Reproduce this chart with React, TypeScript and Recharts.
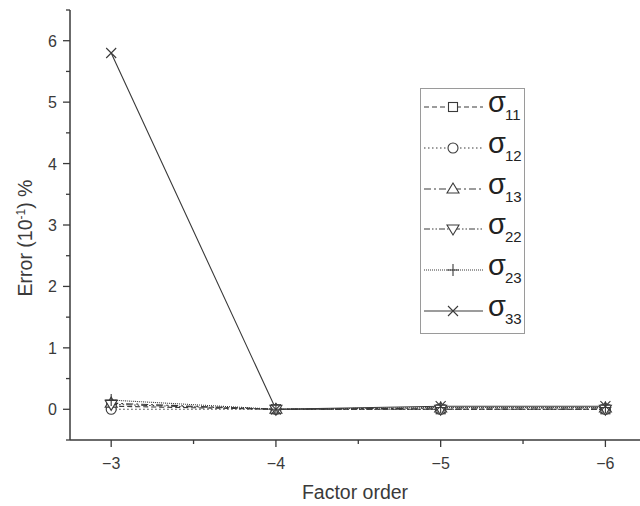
import { LineChart, Line, XAxis, YAxis } from "recharts";

const factorOrders = [-3, -4, -5, -6];
const sigma11 = [0.05, 0, 0, 0];
const sigma12 = [0.0, 0, 0, 0];
const sigma13 = [0.1, 0, 0.02, 0.02];
const sigma22 = [0.08, 0, 0, 0];
const sigma23 = [0.15, 0, 0.03, 0.03];
const sigma33 = [5.8, 0, 0.05, 0.05];

const xTicks = [-3, -3.5, -4, -4.5, -5, -5.5, -6];
const yTicks = [-0.5, 0, 0.5, 1, 1.5, 2, 2.5, 3, 3.5, 4, 4.5, 5, 5.5, 6, 6.5];

const data = factorOrders.map((x, i) => ({
    x,
    s11: sigma11[i],
    s12: sigma12[i],
    s13: sigma13[i],
    s22: sigma22[i],
    s23: sigma23[i],
    s33: sigma33[i],
}));

const INK = "#3a3a3a";
const FONT = "'Liberation Sans', Arial, sans-serif";

type Shape = "square" | "circle" | "up" | "down" | "plus" | "cross";

const series: { key: string; sub: string; dash: string; shape: Shape }[] = [
    { key: "s11", sub: "11", dash: "5 3", shape: "square" },
    { key: "s12", sub: "12", dash: "1.5 2.5", shape: "circle" },
    { key: "s13", sub: "13", dash: "7 3 2 3", shape: "up" },
    { key: "s22", sub: "22", dash: "6 2 1.5 2 1.5 2", shape: "down" },
    { key: "s23", sub: "23", dash: "1 1", shape: "plus" },
    { key: "s33", sub: "33", dash: "", shape: "cross" },
];

function Marker({ cx, cy, shape }: { cx: number; cy: number; shape: Shape }) {
    const r = 5;
    const common = { stroke: INK, strokeWidth: 1.1, fill: "white" };
    switch (shape) {
        case "square":
            return <rect x={cx - r + 0.5} y={cy - r + 0.5} width={2 * r - 1} height={2 * r - 1} {...common} />;
        case "circle":
            return <circle cx={cx} cy={cy} r={r} {...common} />;
        case "up":
            return <polygon points={`${cx},${cy - r - 1} ${cx - r - 1},${cy + r - 1} ${cx + r + 1},${cy + r - 1}`} {...common} />;
        case "down":
            return <polygon points={`${cx},${cy + r + 1} ${cx - r - 1},${cy - r + 1} ${cx + r + 1},${cy - r + 1}`} {...common} />;
        case "plus":
            return (
                <path d={`M${cx - r - 1},${cy}H${cx + r + 1}M${cx},${cy - r - 1}V${cy + r + 1}`} stroke={INK} strokeWidth={1.1} fill="none" />
            );
        default:
            return (
                <path d={`M${cx - r},${cy - r}L${cx + r},${cy + r}M${cx - r},${cy + r}L${cx + r},${cy - r}`} stroke={INK} strokeWidth={1.1} fill="none" />
            );
    }
}

function XTick(props: any) {
    const { x, y, payload } = props;
    const major = Number.isInteger(payload.value);
    return (
        <g>
            <line x1={x} x2={x} y1={y} y2={y + (major ? 7 : 4)} stroke={INK} strokeWidth={1.3} />
            {major && (
                <text x={x} y={y + 29} textAnchor="middle" fontSize={16} fill={INK} fontFamily={FONT}>
                    {"\u2212" + Math.abs(payload.value)}
                </text>
            )}
        </g>
    );
}

function YTick(props: any) {
    const { x, y, payload } = props;
    const major = Number.isInteger(payload.value);
    return (
        <g>
            <line x1={x} x2={x - (major ? 7 : 4)} y1={y} y2={y} stroke={INK} strokeWidth={1.3} />
            {major && (
                <text x={x - 13} y={y + 6} textAnchor="end" fontSize={16} fill={INK} fontFamily={FONT}>
                    {payload.value}
                </text>
            )}
        </g>
    );
}

function YLabel() {
    return (
        <text transform="translate(32,238) rotate(-90)" textAnchor="middle" fontSize={19.5} fill={INK} fontFamily={FONT}>
            Error (10
            <tspan dy={-7} fontSize={12}>-1</tspan>
            <tspan dy={7}>) %</tspan>
        </text>
    );
}

function LegendBox() {
    return (
        <div
            style={{
                position: "absolute",
                left: 420,
                top: 88,
                width: 103,
                height: 244,
                border: "1.5px solid #9a9a9a",
                background: "white",
                fontFamily: FONT,
            }}
        >
            {series.map((s, i) => (
                <div key={s.key} style={{ position: "absolute", left: 0, top: 2 + i * 40.8, height: 36, width: 103 }}>
                    <svg width={64} height={36} style={{ position: "absolute", left: 0, top: 0 }}>
                        <line x1={3} x2={62} y1={16} y2={16} stroke={INK} strokeWidth={1.1} strokeDasharray={s.dash || undefined} />
                        <Marker cx={32} cy={16} shape={s.shape} />
                    </svg>
                    <span style={{ position: "absolute", left: 67, top: -7, fontSize: 29, color: "#222", lineHeight: "36px" }}>σ</span>
                    <span style={{ position: "absolute", left: 84, top: 14, fontSize: 15, color: "#222", lineHeight: "20px" }}>{s.sub}</span>
                </div>
            ))}
        </div>
    );
}

export default function App() {
    return (
        <div style={{ position: "absolute", left: 0, top: 0, width: 640, height: 506, background: "white" }}>
            <LineChart width={640} height={506} data={data} margin={{ top: 10, right: 0, bottom: 0, left: 0 }}>
                <XAxis
                    dataKey="x"
                    type="number"
                    domain={[-6.21, -2.75]}
                    reversed
                    allowDataOverflow
                    ticks={xTicks}
                    interval={0}
                    height={66}
                    tickSize={0}
                    tickMargin={0}
                    tick={<XTick />}
                    axisLine={{ stroke: INK, strokeWidth: 1.5 }}
                    label={{ value: "Factor order", position: "insideBottom", offset: 7, fontSize: 19.5, fill: INK, fontFamily: FONT }}
                />
                <YAxis
                    type="number"
                    domain={[-0.5, 6.5]}
                    ticks={yTicks}
                    interval={0}
                    width={70}
                    tickSize={0}
                    tickMargin={0}
                    tick={<YTick />}
                    axisLine={{ stroke: INK, strokeWidth: 1.5 }}
                    label={<YLabel />}
                />
                {series.map((s) => (
                    <Line
                        key={s.key}
                        dataKey={s.key}
                        stroke={INK}
                        strokeWidth={1.1}
                        strokeDasharray={s.dash || undefined}
                        isAnimationActive={false}
                        dot={(p: any) => <Marker key={`${s.key}-${p.index}`} cx={p.cx} cy={p.cy} shape={s.shape} />}
                        activeDot={false}
                    />
                ))}
            </LineChart>
            <LegendBox />
        </div>
    );
}
